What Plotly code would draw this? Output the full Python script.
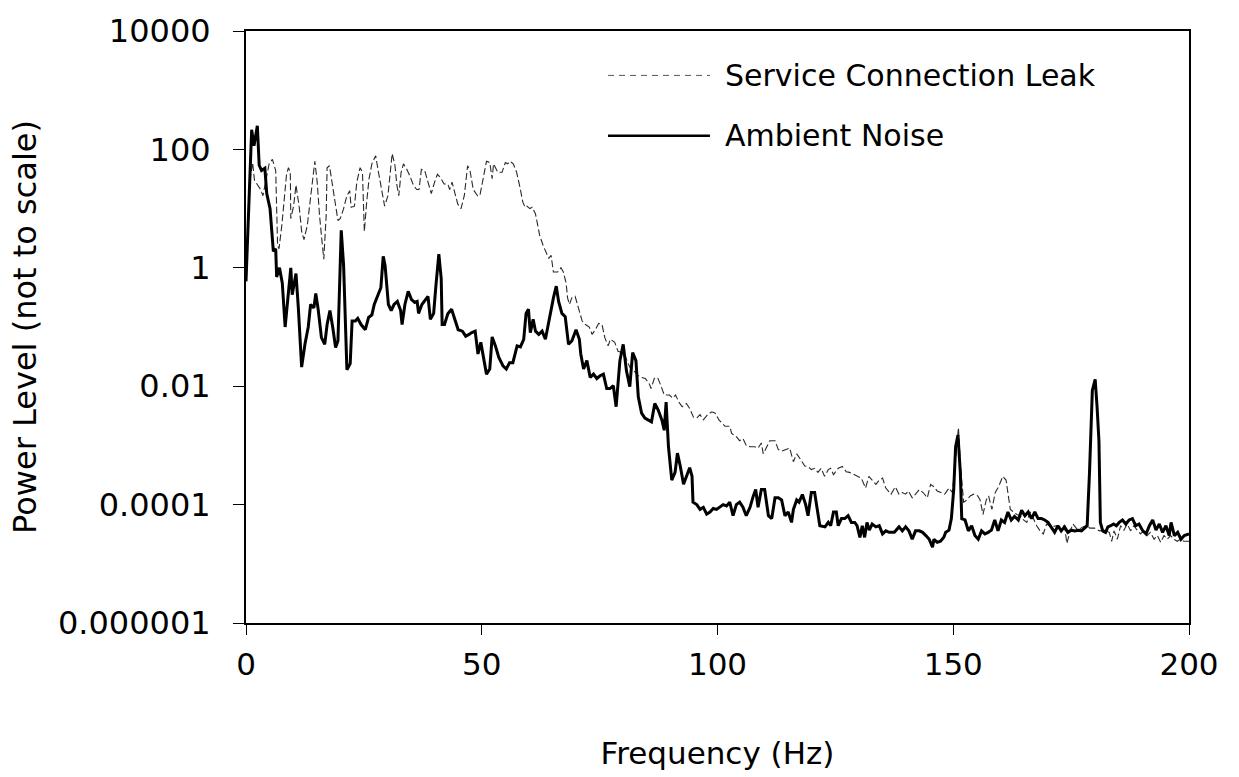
import plotly.graph_objects as go

# ---- data ----
noise_freq = [0, 1.2, 1.7, 2.4, 2.8, 3.3, 4.0, 4.4, 5.1, 5.8, 6.3, 6.5, 7.1, 7.7, 8.3, 9.0, 9.5, 9.8,
              10.6, 11.1, 11.8, 12.5, 13.2, 13.7, 14.4, 14.8, 15.3, 16.0, 16.7, 17.2, 17.8, 18.4, 19.0, 19.5,
              20.2, 20.7, 21.4, 22.1, 22.5, 23.2, 23.7, 24.4, 25.3, 26.0, 26.7, 27.2, 28.1, 28.6, 29.1, 29.5,
              30.2, 30.8, 31.4, 32.1, 32.8, 33.1, 33.7, 34.4, 35.1, 35.8, 36.3, 36.6, 37.3, 38.2, 38.6, 39.1,
              39.8, 40.3, 40.9, 41.4, 41.6, 42.1, 42.8, 43.6, 44.4, 45.0, 45.9, 46.6, 47.3, 47.8, 48.6, 49.2,
              49.8, 50.4, 51.0, 51.7, 52.2, 52.9, 53.6, 54.5, 55.2, 55.9, 56.6, 57.5, 58.2, 58.9, 59.4, 59.9,
              60.3, 60.9, 61.4, 62.1, 62.8, 63.5, 64.2, 64.9, 65.2, 65.8, 66.3, 67.0, 67.7, 68.4, 69.1, 70.0,
              70.7, 71.0, 71.6, 72.3, 73.0, 73.7, 74.4, 75.1, 75.8, 76.5, 77.2, 77.9, 78.5, 79.3, 80.0, 80.7,
              81.4, 82.0, 82.7, 83.2, 83.9, 84.6, 85.3, 86.0, 86.7, 87.4, 88.2, 88.7, 89.1, 89.6, 90.3, 91.0,
              91.5, 92.1, 92.8, 93.5, 94.1, 94.6, 94.8, 95.6, 96.3, 97.0, 97.7, 98.4, 99.1, 99.8, 100.5, 101.2,
              101.9, 102.6, 103.3, 104.0, 104.7, 105.4, 106.1, 106.9, 107.6, 108.1, 108.6, 109.3, 110.0, 110.8,
              111.5, 112.2, 112.9, 113.6, 114.3, 115.0, 115.7, 116.1, 116.8, 117.3, 118.0, 118.7, 119.2, 119.9,
              120.6, 121.1, 121.7, 122.8, 123.5, 124.0, 124.6, 125.2, 125.6, 126.3, 127.0, 127.7, 128.4, 129.1,
              129.6, 130.2, 130.7, 131.2, 131.7, 132.2, 132.8, 133.6, 134.3, 135.0, 135.7, 136.4, 137.5, 138.5,
              139.2, 139.9, 140.6, 141.3, 142.0, 142.8, 143.5, 144.2, 144.9, 145.6, 145.9, 146.6, 147.3, 148.0,
              148.4, 149.1, 149.6, 150.1, 150.5, 151.0, 151.5, 151.8, 152.5, 153.2, 153.9, 154.6, 155.3, 156.0,
              156.7, 157.4, 158.1, 158.8, 159.5, 160.2, 160.9, 161.6, 162.3, 163.0, 163.8, 164.5, 165.2, 165.9,
              166.6, 167.3, 168.0, 168.7, 169.4, 170.1, 170.8, 171.5, 172.2, 172.9, 173.6, 174.3, 175.0, 175.8,
              176.5, 177.2, 178.4, 178.9, 179.5, 180.1, 180.5, 180.9, 181.2, 181.7, 182.3, 182.8, 183.4, 184.0,
              184.6, 185.2, 185.9, 186.6, 187.3, 188.0, 188.7, 189.4, 190.2, 190.9, 191.6, 192.3, 193.0, 193.7,
              194.4, 195.1, 195.8, 196.2, 196.9, 197.6, 198.3, 199.0, 200.0]
noise_power = [0.59, 215, 115, 250, 54, 44, 48, 18, 10, 1.9, 2.1, 0.7, 1.0, 0.55, 0.1, 0.4, 1.0, 0.35,
               0.8, 0.21, 0.021, 0.051, 0.1, 0.24, 0.21, 0.37, 0.2, 0.066, 0.051, 0.11, 0.19, 0.098, 0.045, 0.058,
               4.3, 1.1, 0.019, 0.024, 0.126, 0.126, 0.14, 0.11, 0.09, 0.145, 0.16, 0.24, 0.35, 0.46, 1.56, 1.1,
               0.24, 0.19, 0.24, 0.27, 0.19, 0.11, 0.24, 0.4, 0.29, 0.26, 0.27, 0.17, 0.24, 0.31, 0.33, 0.135,
               0.17, 0.52, 1.7, 0.66, 0.11, 0.11, 0.167, 0.2, 0.126, 0.09, 0.085, 0.07, 0.075, 0.08, 0.085, 0.035,
               0.055, 0.031, 0.016, 0.0195, 0.068, 0.048, 0.031, 0.022, 0.0195, 0.025, 0.025, 0.048, 0.046, 0.062, 0.17, 0.2,
               0.08, 0.135, 0.085, 0.075, 0.085, 0.062, 0.126, 0.22, 0.31, 0.49, 0.27, 0.17, 0.15, 0.051, 0.058, 0.09,
               0.062, 0.035, 0.0195, 0.027, 0.014, 0.016, 0.0135, 0.015, 0.016, 0.0091, 0.0091, 0.0102, 0.0045, 0.027, 0.051, 0.018,
               0.0098, 0.037, 0.027, 0.0066, 0.0035, 0.0029, 0.0027, 0.0025, 0.0051, 0.0040, 0.0027, 0.0018, 0.0054, 0.00095, 0.00026, 0.00035,
               0.00074, 0.00045, 0.00022, 0.0003, 0.00042, 0.0003, 0.00011, 0.0001, 8.3e-5, 9.0e-5, 6.9e-5, 7.5e-5, 8.6e-5, 8.3e-5, 9.0e-5, 1.0e-4,
               9.5e-5, 1.1e-4, 6.5e-5, 1.0e-4, 1.1e-4, 9.0e-5, 6.5e-5, 9.0e-5, 1.4e-4, 1.8e-4, 9.0e-5, 1.8e-4, 1.8e-4, 6.5e-5,
               5.8e-5, 1.3e-4, 1.3e-4, 1.2e-4, 6.5e-5, 7.5e-5, 5.0e-5, 8.3e-5, 1.2e-4, 1.1e-4, 1.48e-4, 1.0e-4, 6.5e-5, 1.6e-4,
               1.6e-4, 9.0e-5, 4.4e-5, 4.2e-5, 5.0e-5, 4.4e-5, 7.5e-5, 7.5e-5, 4.4e-5, 5.8e-5, 5.8e-5, 6.5e-5, 5.0e-5, 5.0e-5,
               4.4e-5, 2.8e-5, 4.4e-5, 2.8e-5, 5.0e-5, 3.7e-5, 4.7e-5, 4.2e-5, 4.4e-5, 3.2e-5, 3.6e-5, 3.4e-5, 3.4e-5, 4.2e-5,
               3.6e-5, 4.2e-5, 3.6e-5, 2.6e-5, 3.6e-5, 3.6e-5, 3.4e-5, 3.0e-5, 2.6e-5, 1.9e-5, 2.6e-5, 2.3e-5, 2.4e-5, 2.8e-5,
               3.4e-5, 3.7e-5, 5.8e-5, 1.8e-4, 9.5e-4, 1.5e-3, 3.5e-4, 5.8e-5, 5.5e-5, 3.6e-5, 4.4e-5, 3.0e-5, 2.6e-5, 3.6e-5,
               3.2e-5, 3.4e-5, 3.7e-5, 5.5e-5, 3.6e-5, 5.5e-5, 5.0e-5, 7.5e-5, 5.5e-5, 6.3e-5, 5.5e-5, 8.0e-5, 6.5e-5, 7.5e-5,
               5.8e-5, 7.5e-5, 5.8e-5, 5.8e-5, 5.5e-5, 5.0e-5, 4.2e-5, 3.4e-5, 4.4e-5, 3.6e-5, 4.2e-5, 3.4e-5, 3.7e-5, 3.6e-5,
               3.7e-5, 3.6e-5, 4.4e-5, 3.5e-4, 8.5e-3, 1.3e-2, 4.5e-3, 1.2e-3, 5.0e-5, 3.6e-5, 3.4e-5, 4.2e-5, 4.4e-5, 4.7e-5,
               4.4e-5, 5.0e-5, 5.5e-5, 4.7e-5, 5.5e-5, 5.8e-5, 4.4e-5, 4.7e-5, 3.6e-5, 3.2e-5, 4.4e-5, 5.5e-5, 3.7e-5, 4.7e-5,
               3.4e-5, 4.4e-5, 3.0e-5, 5.0e-5, 3.0e-5, 3.4e-5, 2.6e-5, 3.0e-5, 3.2e-5]

leak_freq = [0.5, 1.4, 1.8, 2.4, 3.1, 3.6, 4.2, 4.9, 5.6, 6.3, 6.7, 7.0, 7.6, 8.1, 8.6, 9.0, 9.4, 9.5,
             10.1, 10.6, 11.3, 11.8, 12.3, 13.0, 13.7, 14.2, 14.6, 15.1, 15.6, 16.2, 16.5, 17.0, 17.2, 17.7,
             18.3, 19.0, 19.5, 20.0, 20.7, 21.4, 22.0, 22.3, 23.0, 23.5, 24.2, 24.7, 25.1, 25.6, 26.1, 26.7,
             27.5, 28.1, 28.8, 29.4, 30.1, 30.6, 31.0, 31.6, 32.0, 32.4, 32.9, 33.4, 34.1, 34.8, 35.5, 36.2,
             36.7, 37.2, 37.9, 38.6, 39.3, 40.0, 40.6, 41.3, 42.0, 42.8, 43.2, 43.7, 44.3, 44.9, 45.6, 46.3,
             47.0, 47.5, 48.2, 49.1, 49.6, 50.1, 51.0, 51.7, 52.2, 52.5, 53.4, 54.3, 55.0, 55.5, 56.0, 56.7,
             57.4, 58.1, 58.7, 59.2, 59.6, 60.2, 60.7, 61.4, 61.9, 62.3, 63.0, 63.7, 64.2, 64.7, 65.2, 66.1,
             66.8, 67.3, 67.9, 68.2, 68.6, 69.1, 69.8, 70.5, 71.3, 72.0, 72.8, 73.4, 74.1, 74.8, 75.5, 76.1,
             76.8, 77.3, 78.2, 78.9, 79.7, 80.5, 81.4, 82.3, 83.2, 83.9, 84.7, 85.6, 85.9, 86.6, 87.3, 88.0,
             88.7, 89.8, 90.5, 91.1, 91.8, 92.5, 93.4, 94.1, 94.9, 95.6, 96.3, 97.0, 97.9, 98.8, 99.5, 100.3,
             101.6, 102.6, 103.0, 104.0, 104.7, 105.4, 106.1, 106.9, 107.9, 108.6, 109.3, 109.7, 110.4, 111.1,
             112.2, 112.9, 113.6, 114.6, 115.3, 116.1, 116.8, 117.8, 118.5, 119.2, 119.9, 120.6, 121.3, 122.0,
             122.7, 123.5, 124.0, 124.6, 125.6, 126.5, 127.3, 128.0, 129.1, 129.8, 130.5, 131.4, 132.1, 132.8,
             133.6, 134.3, 135.0, 135.7, 136.8, 137.7, 138.5, 139.2, 139.9, 140.5, 141.3, 142.0, 142.8, 143.6,
             144.5, 145.2, 145.9, 146.6, 147.3, 148.2, 149.1, 149.8, 150.3, 150.7, 151.1, 151.5, 151.8, 152.2,
             152.9, 153.6, 154.3, 155.2, 155.7, 156.3, 157.0, 157.5, 158.2, 158.9, 159.6, 160.5, 161.2, 161.7,
             162.1, 162.8, 163.5, 164.2, 164.9, 165.6, 166.3, 167.0, 167.7, 168.4, 169.1, 169.8, 170.8, 171.9,
             172.6, 173.6, 174.1, 174.7, 175.4, 176.4, 177.5, 178.2, 179.0, 180.0, 181.0, 182.0, 183.1, 183.6,
             184.1, 184.8, 185.5, 186.2, 186.9, 187.6, 188.3, 189.0, 189.7, 190.4, 191.1, 191.8, 192.6, 193.3,
             194.0, 194.7, 195.4, 196.1, 196.8, 197.5, 198.2, 198.9, 200.0]
leak_power = [20, 60, 30, 26, 21, 16.5, 28, 57, 68, 44, 2.4, 2.1, 5.2, 13, 38, 49, 41, 6.8,
              11, 25, 10.5, 4.1, 3.0, 5.2, 14.5, 28, 63, 28, 7.6, 2.4, 1.4, 7.6, 49, 53,
              25, 11, 6.3, 6.8, 10, 16.5, 20, 10.5, 11, 28, 49, 41, 4.1, 13, 32, 57,
              78, 41, 21, 11, 16.5, 46, 85, 53, 25, 16.5, 41, 57, 46, 35, 25, 21,
              21, 46, 44, 28, 18, 28, 38, 33, 26, 26, 21, 28, 18.7, 12, 10, 16.5,
              53, 44, 21, 16.5, 16.5, 28, 63, 60, 32, 57, 41, 41, 60, 57, 63, 57,
              41, 23, 13, 10.5, 11, 10, 10.5, 8.1, 5.2, 3.5, 2.4, 1.74, 1.44, 1.63, 0.85, 0.85,
              1.0, 0.85, 0.55, 0.31, 0.24, 0.31, 0.33, 0.21, 0.126, 0.11, 0.1, 0.075, 0.09, 0.115, 0.11, 0.066,
              0.048, 0.062, 0.055, 0.039, 0.037, 0.031, 0.021, 0.018, 0.015, 0.014, 0.0135, 0.0107, 0.0091, 0.0135, 0.014, 0.0102,
              0.0071, 0.0071, 0.0063, 0.0071, 0.0054, 0.0045, 0.0051, 0.0042, 0.003, 0.0029, 0.0033, 0.0027, 0.0033, 0.0037, 0.0035, 0.0027,
              0.0021, 0.0021, 0.0016, 0.0014, 0.0012, 0.0013, 0.001, 0.00095, 0.00095, 0.0009, 0.0011, 0.00072, 0.00095, 0.0012,
              0.0012, 0.00085, 0.0008, 0.00085, 0.0009, 0.00053, 0.00072, 0.00055, 0.00045, 0.00044, 0.00039, 0.00041, 0.00035, 0.00041,
              0.0003, 0.00039, 0.00041, 0.00032, 0.00041, 0.00044, 0.00036, 0.00035, 0.00032, 0.0003, 0.00028, 0.00019, 0.0003, 0.00026,
              0.00022, 0.00026, 0.00028, 0.00019, 0.00015, 0.0002, 0.00015, 0.00016, 0.00015, 0.00017, 0.00013, 0.00015, 0.00018, 0.00016,
              0.00013, 0.00022, 0.0002, 0.00017, 0.00016, 0.00015, 0.00019, 0.00016, 0.00039, 0.00095, 0.002, 0.0005, 0.00028, 0.00011,
              1.2e-4, 1.4e-4, 1.5e-4, 1.4e-4, 1.2e-4, 6.8e-5, 1.2e-4, 1.4e-4, 8.3e-5, 1.6e-4, 2.0e-4, 3.0e-4, 2.6e-4, 1.4e-4,
              8.3e-5, 7.5e-5, 6.8e-5, 6.5e-5, 5.5e-5, 5.0e-5, 7.5e-5, 5.8e-5, 4.4e-5, 3.6e-5, 3.2e-5, 4.7e-5, 4.2e-5, 4.4e-5,
              4.2e-5, 4.4e-5, 2.2e-5, 3.4e-5, 4.7e-5, 3.7e-5, 4.2e-5, 4.4e-5, 4.0e-5, 4.0e-5, 3.6e-5, 3.7e-5, 3.4e-5, 2.4e-5,
              3.6e-5, 2.6e-5, 4.4e-5, 3.7e-5, 4.7e-5, 3.6e-5, 4.4e-5, 3.7e-5, 3.2e-5, 3.6e-5, 3.0e-5, 3.4e-5, 2.6e-5, 3.0e-5,
              2.3e-5, 3.0e-5, 2.6e-5, 3.0e-5, 2.6e-5, 2.4e-5, 2.6e-5, 2.4e-5, 2.4e-5]

y_tick_vals = [1e-6, 1e-4, 1e-2, 1, 100, 10000]
y_tick_text = ["0.000001", "0.0001", "0.01", "1", "100", "10000"]
x_tick_vals = [0, 50, 100, 150, 200]

series_names = ["Service Connection Leak", "Ambient Noise"]

FONT = "DejaVu Sans, Liberation Sans, Arial, sans-serif"

fig = go.Figure()
fig.add_trace(go.Scatter(x=leak_freq, y=leak_power, mode="lines", name=series_names[0],
                         line=dict(color="#2a2a2a", width=1.1, dash="7px,3px")))
fig.add_trace(go.Scatter(x=noise_freq, y=noise_power, mode="lines", name=series_names[1],
                         line=dict(color="black", width=3)))

# legend drawn as in the original (long sample lines, no box)
legend_rows = [(0.925, dict(color="#555555", width=1, dash="6px,5px")),
               (0.823, dict(color="black", width=2.5))]
for (ly, lstyle), name in zip(legend_rows, series_names):
    fig.add_shape(type="line", xref="paper", yref="paper", x0=0.3839, x1=0.4920, y0=ly, y1=ly,
                  line=lstyle)
    fig.add_annotation(xref="paper", yref="paper", x=0.5058, y=ly, text=name, showarrow=False,
                       xanchor="left", yanchor="middle", font=dict(family=FONT, size=30, color="black"))

fig.update_layout(
    width=1239, height=777,
    margin=dict(l=246, r=50, t=27, b=152),
    paper_bgcolor="white", plot_bgcolor="white",
    showlegend=False,
    font=dict(family=FONT, size=31, color="black"),
)
fig.update_xaxes(range=[0, 200], tickvals=x_tick_vals, ticks="outside", ticklen=10, tickwidth=1,
                 tickcolor="black", showline=True, linewidth=2, linecolor="black", mirror=True,
                 showgrid=False, zeroline=False, ticklabelstandoff=3,
                 title=dict(text="Frequency (Hz)", standoff=61, font=dict(size=31)))
fig.update_yaxes(type="log", range=[-6, 4], tickvals=y_tick_vals, ticktext=y_tick_text,
                 tickfont=dict(size=32),
                 ticks="outside", ticklen=11, tickwidth=1, tickcolor="black",
                 showline=True, linewidth=2, linecolor="black", mirror=True,
                 showgrid=False, zeroline=False, ticklabelstandoff=16,
                 title=dict(text="Power Level (not to scale)", standoff=12, font=dict(size=32)))

fig.write_html("out.html")
